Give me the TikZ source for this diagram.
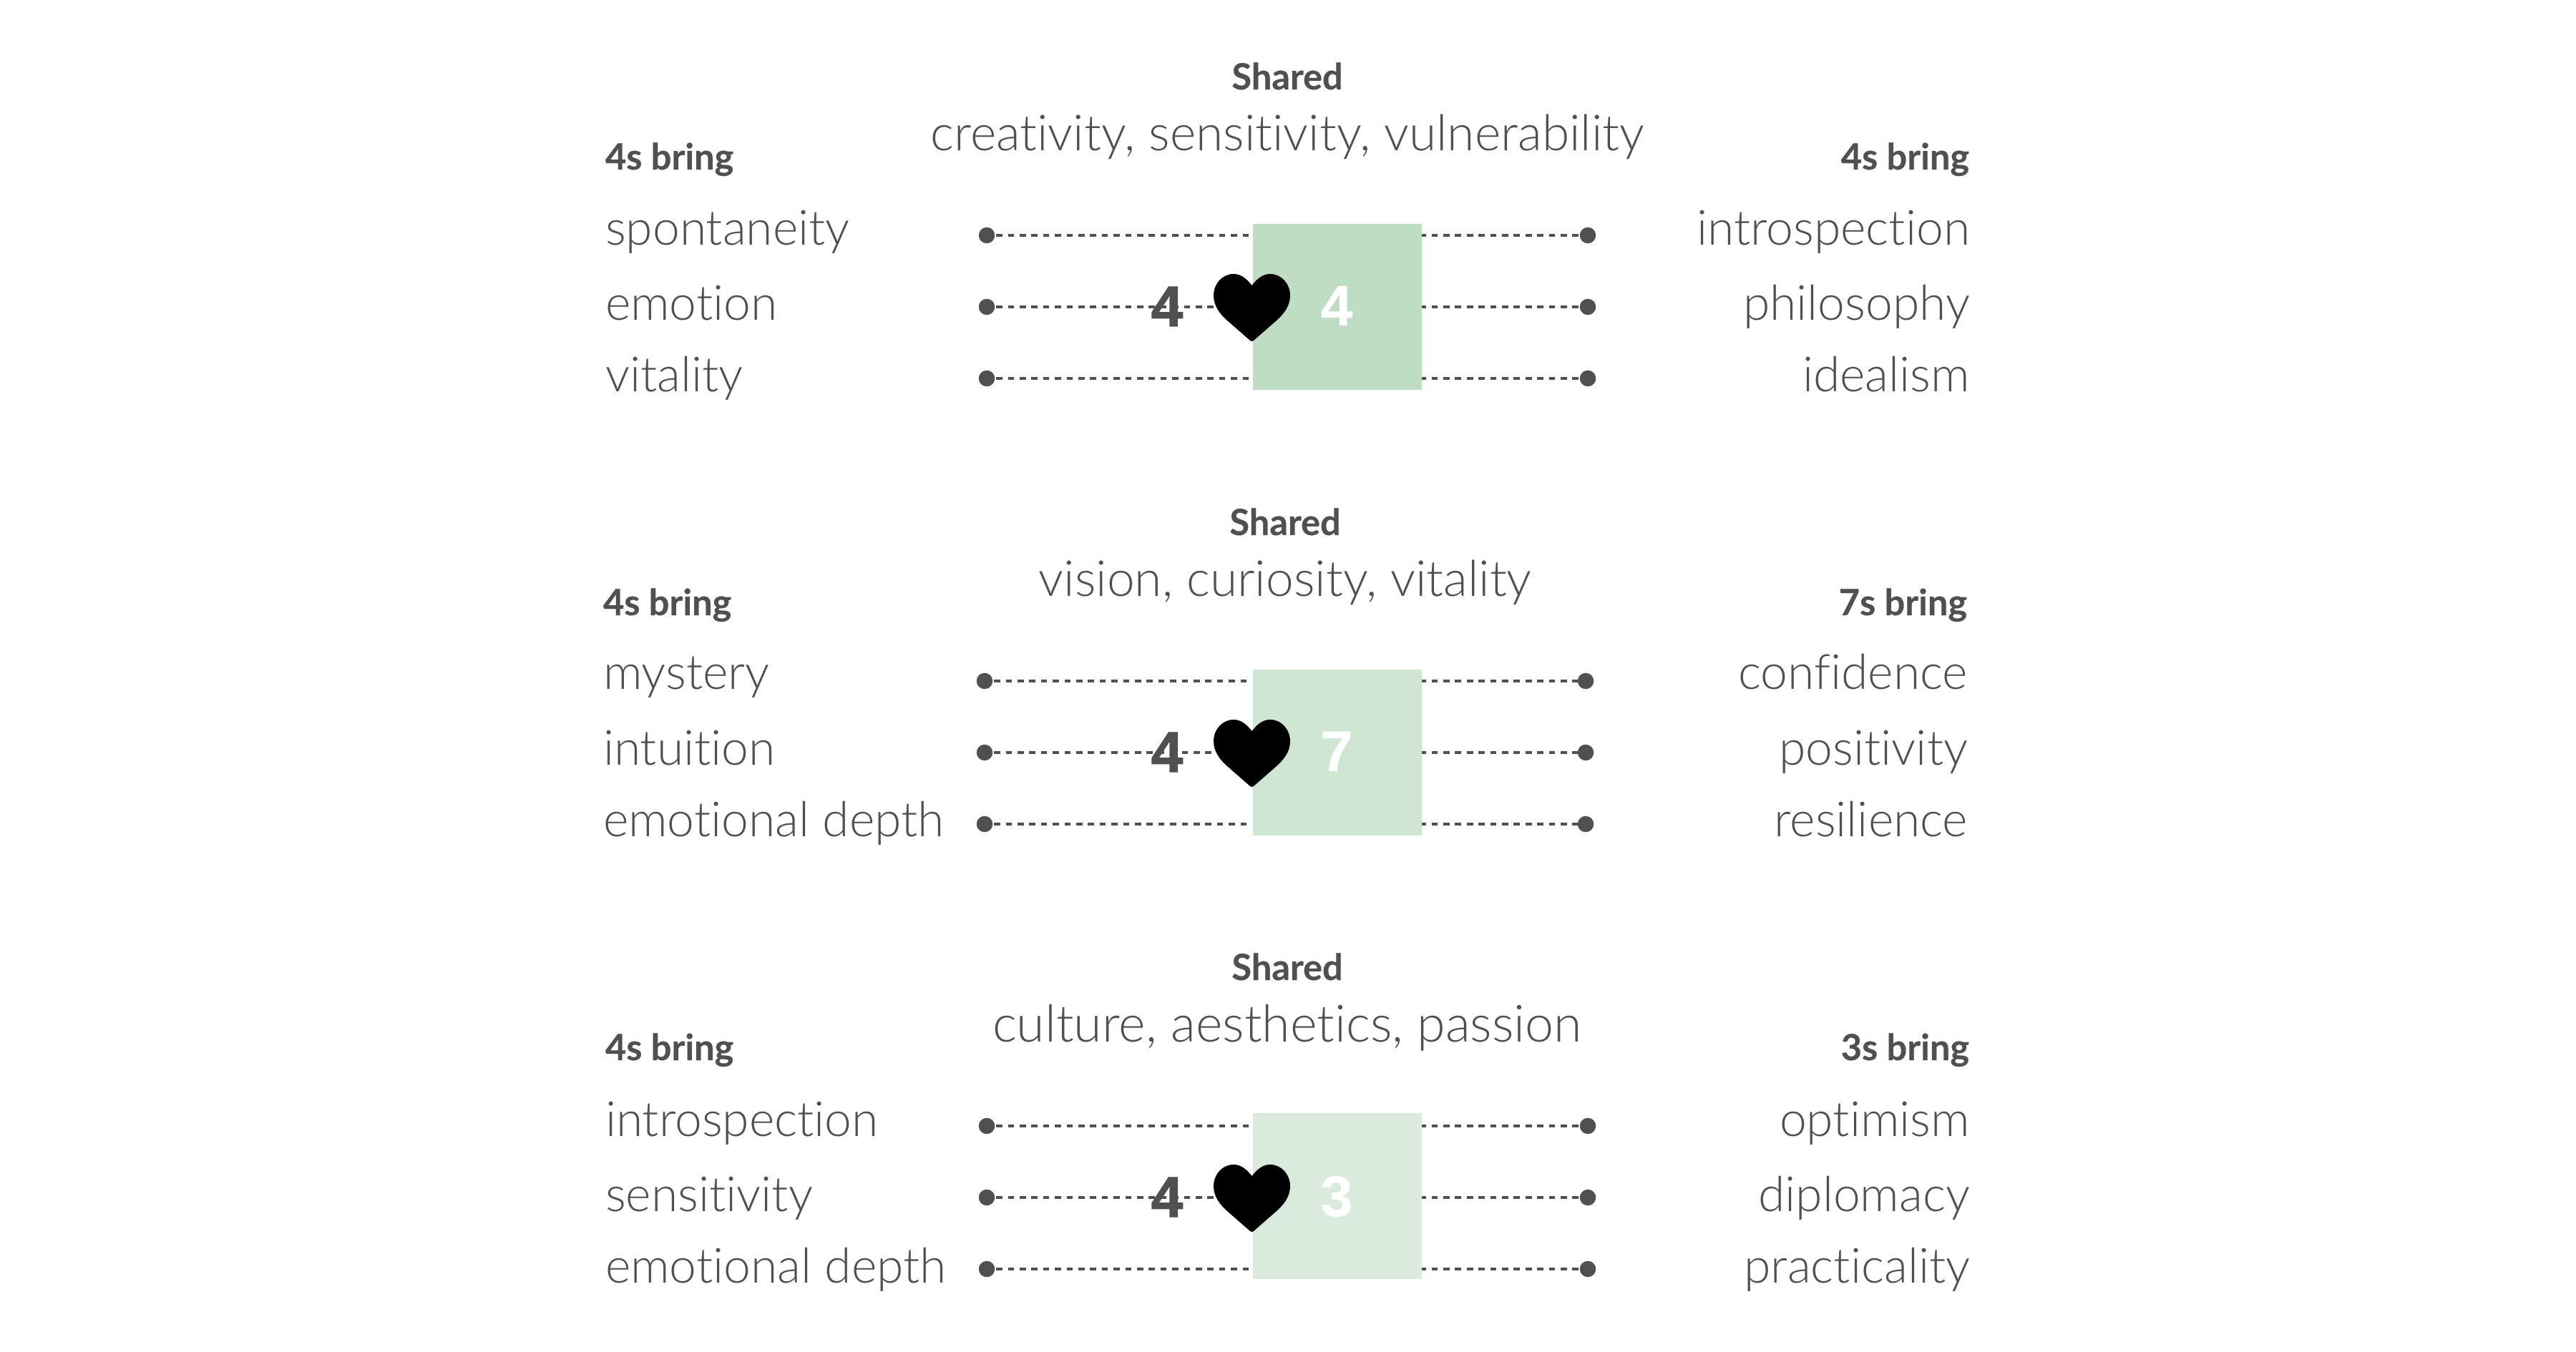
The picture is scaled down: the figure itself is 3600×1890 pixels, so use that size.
\documentclass[tikz,border=0pt]{standalone}
\usepackage{fontspec}
\setmainfont{Lato}
\newfontfamily\lightf{Lato Light}[RawFeature={-liga}]
\newfontfamily\boldf{Lato}[UprightFont=* Bold,FakeBold=0.35]
\newfontfamily\digitf{Liberation Sans}[UprightFont=* Bold,FakeBold=0.6]
\newfontfamily\digitheavyf{Liberation Sans}[UprightFont=* Bold,FakeBold=1.4]
\definecolor{ink}{HTML}{505050}
\definecolor{greenA}{HTML}{BFDDC3}
\definecolor{greenB}{HTML}{CEE6D2}
\definecolor{greenC}{HTML}{DAEBDD}
\tikzset{
  x=0.2pt,y=-0.2pt,
  item/.style={inner sep=0,outer sep=0,text=ink,font=\lightf\fontsize{13.55}{16}\selectfont},
  shared/.style={item,anchor=base,font=\lightf\fontsize{13.9}{16}\selectfont},
  head/.style={inner sep=0,outer sep=0,text=ink,font=\boldf\fontsize{10.1}{12}\selectfont},
  num/.style={inner sep=0,outer sep=0,anchor=base,font=\digitf\fontsize{16}{18}\selectfont},
  numheavy/.style={num,font=\digitheavyf\fontsize{16}{18}\selectfont},
  dotn/.style={circle,fill=ink,minimum size=4.5pt,inner sep=0,outer sep=0},
  dash line/.style={draw=ink,line width=0.8pt,dash pattern=on 1.74pt off 1.54pt},
  left dash/.style={dash line,dash phase=2.9pt},
  right dash/.style={dash line,dash phase=0.55pt},
  square/.style={inner sep=0,outer sep=0,minimum width=47.2pt,minimum height=46.4pt}
}
\newcommand\rowbase[1]{\ifcase#1\or343\or448\or548\fi}
\newcommand\rowline[1]{\ifcase#1\or329\or429\or529\fi}
% dx dy name fill digit shared left-list right-list right-head
\newcommand\block[9]{%
\begin{scope}[shift={(#1,#2)}]
  \begin{scope}[shift={(-#1,\squareshift)}]
  \node[square,fill=#4] (#3sq) at (1869,429) {};
  \end{scope}
  \node[head,anchor=base] (#3sh) at (1799,125) {Shared};
  \node[shared] (#3st) at (1799,211) {#6};
  \node[head,anchor=base west] (#3lh) at (846,237) {4s bring};
  \node[head,anchor=base east] (#3rh) at (2752,237) {#9};
  \begin{scope}[shift={(0,\itemshift)}]
  \foreach \t [count=\i] in {#7} {
    \node[item,anchor=base west] at (846,\rowbase{\i}) {\t};
  }
  \foreach \t [count=\i] in {#8} {
    \node[item,anchor=base east] at (2753,\rowbase{\i}) {\t};
  }
  \end{scope}
  \foreach \i in {1,2,3} {
    \node[dotn] (#3l\i) at (1379,\rowline{\i}) {};
    \node[dotn] (#3r\i) at (2219,\rowline{\i}) {};
  }
  \begin{scope}[shift={(-#1,0)}]
  \coordinate (#3a1) at (1747,329);
  \coordinate (#3a2) at (1700,429);
  \coordinate (#3a3) at (1747,529);
  \coordinate (#3b1) at (1987,329);
  \coordinate (#3b2) at (1987,429);
  \coordinate (#3b3) at (1987,529);
  \end{scope}
  \foreach \i in {1,2,3} {
    \draw[left dash] (#3l\i) -- (#3a\i);
    \draw[right dash] (#3b\i) -- (#3r\i);
  }
  \begin{scope}[shift={(-#1,0)}]
  \fill[black] (1749.5,399) .. controls (1741,388) and (1733,383) .. (1724,383)
     .. controls (1708,383) and (1696,397) .. (1696,413)
     .. controls (1696,428) and (1705,439) .. (1715,448)
     -- (1747,476) .. controls (1749,477.5) and (1750,477.5) .. (1752,476)
     -- (1784,448)
     .. controls (1794,439) and (1803,428) .. (1803,413)
     .. controls (1803,397) and (1791,383) .. (1775,383)
     .. controls (1766,383) and (1758,388) .. (1749.5,399) -- cycle;
  \node[numheavy,text=ink] (#3nl) at (1631,456) {4};
  \node[num,text=white] (#3nr) at (1868,455) {#5};
  \end{scope}
\end{scope}}
\begin{document}
\begin{tikzpicture}
\useasboundingbox (0,0) rectangle (3600,1890);
\fill[white] (0,0) rectangle (3600,1890);
\def\itemshift{0}\def\squareshift{0}
\block{0}{0}{a}{greenA}{4}{creativity, sensitivity, vulnerability}{spontaneity,emotion,vitality}{introspection,philosophy,idealism}{4s bring}
\def\itemshift{-2}
\block{-3}{623}{b}{greenB}{7}{vision, curiosity, vitality}{mystery,intuition,emotional depth}{confidence,positivity,resilience}{7s bring}
\def\itemshift{0}\def\squareshift{-2}
\block{0}{1245}{c}{greenC}{3}{\fontsize{14.35}{16}\selectfont culture, aesthetics, passion}{introspection,sensitivity,emotional depth}{optimism,diplomacy,practicality}{3s bring}
\end{tikzpicture}
\end{document}
